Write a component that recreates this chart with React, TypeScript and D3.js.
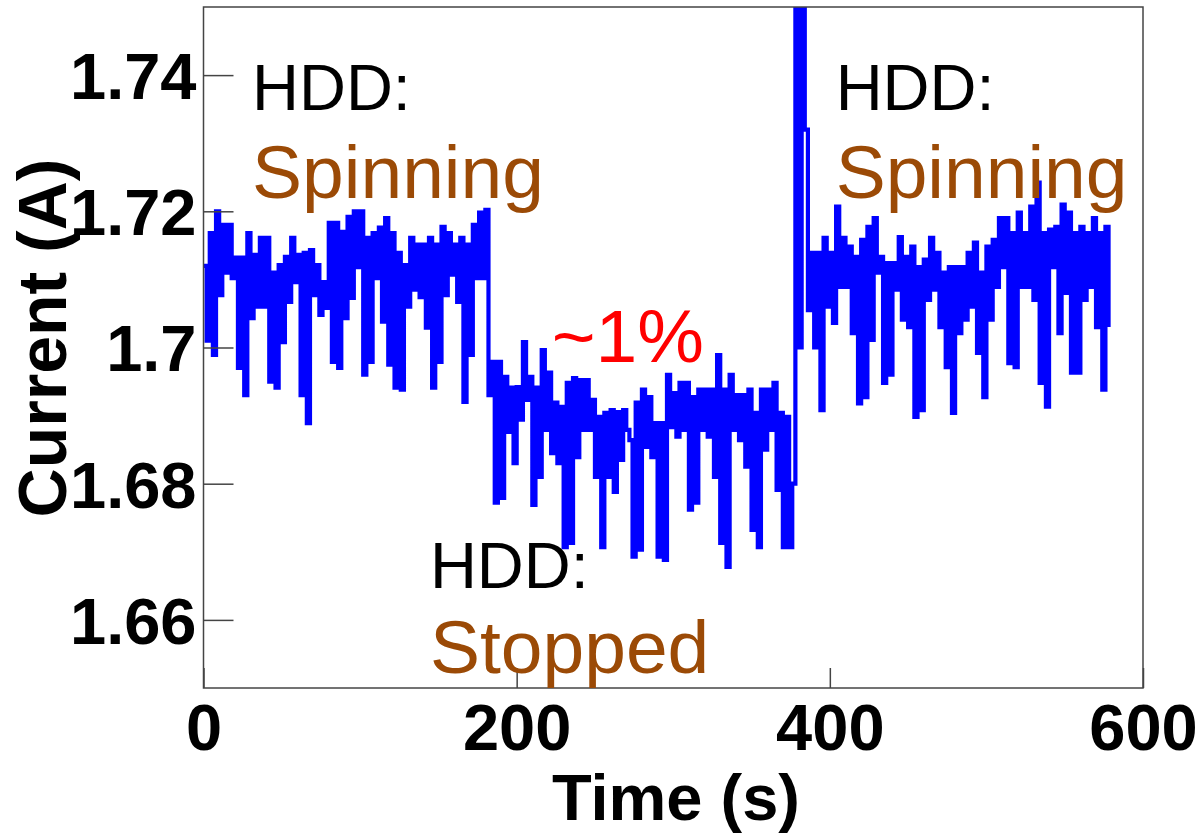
import { useEffect, useRef } from 'react'
import * as d3 from 'd3'

// ── Data ─────────────────────────────────────────────────────────────────────
// Seconds between two samples of the current trace
const SAMPLE_STEP = 2

// Supply current (A), one value every 2 s
const CURRENT = [
  // HDD spinning
  1.712, 1.701, 1.7168, 1.6989, 1.720, 1.7077, 1.718, 1.711, 1.718, 1.7102,
  1.7132, 1.697, 1.7132, 1.693, 1.7168, 1.7043, 1.7136, 1.706, 1.7161, 1.706,
  1.7161, 1.695, 1.711, 1.6941, 1.7121, 1.7008, 1.7133, 1.7067, 1.7161, 1.7096,
  1.7136, 1.693, 1.7139, 1.6889, 1.7143, 1.7077, 1.7121, 1.7048, 1.7096, 1.7058,
  1.7183, 1.6979, 1.7183, 1.697, 1.717, 1.7043, 1.7192, 1.7073, 1.720, 1.7118,
  1.720, 1.696, 1.7161, 1.6979, 1.7168, 1.7102, 1.7176, 1.7038, 1.719, 1.6975,
  1.7168, 1.6941, 1.7139, 1.6938, 1.7121, 1.706, 1.7161, 1.7085, 1.7151, 1.7074,
  1.7151, 1.7029, 1.7161, 1.6941, 1.7151, 1.6979, 1.7177, 1.7077, 1.7168, 1.7107,
  1.7151, 1.7067, 1.7161, 1.692, 1.7151, 1.6989, 1.718, 1.7102, 1.7198, 1.7102,
  1.7202, 1.693,
  // HDD stopped
  1.6979, 1.6772, 1.6979, 1.6779, 1.6957, 1.6876, 1.6941, 1.683, 1.6942, 1.6894,
  1.7008, 1.6923, 1.6957, 1.6769, 1.6941, 1.681, 1.6996, 1.6879, 1.6963, 1.6845,
  1.6919, 1.683, 1.6913, 1.6707, 1.6948, 1.6713, 1.6955, 1.6839, 1.6952, 1.6879,
  1.6952, 1.6879, 1.6923, 1.681, 1.6898, 1.6707, 1.6904, 1.681, 1.6908, 1.6788,
  1.6905, 1.6835, 1.6908, 1.6879, 1.6864, 1.6693, 1.6919, 1.6703, 1.6938, 1.6854,
  1.6927, 1.6839, 1.6889, 1.6693, 1.6889, 1.6688, 1.696, 1.6883, 1.6933, 1.6869,
  1.6948, 1.6879, 1.6948, 1.6762, 1.6927, 1.6772, 1.6938, 1.6879, 1.6938, 1.6869,
  1.6938, 1.681, 1.6989, 1.6713, 1.6938, 1.6678, 1.696, 1.6879, 1.693, 1.6864,
  1.693, 1.6825, 1.6938, 1.6732, 1.6904, 1.6707, 1.6938, 1.685, 1.6938, 1.6879,
  1.6948, 1.6791, 1.6904, 1.6707, 1.6898, 1.6707,
  // spin-up spike
  1.680, 1.780, 1.700, 1.780, 1.732, 1.7055,
  // HDD spinning again
  1.7139, 1.700, 1.7139, 1.6908, 1.7161, 1.706, 1.7139, 1.7036, 1.7207, 1.7089,
  1.7161, 1.7089, 1.7148, 1.7021, 1.7133, 1.6918, 1.7158, 1.6927, 1.7177, 1.7011,
  1.719, 1.711, 1.7133, 1.6948, 1.7124, 1.696, 1.7124, 1.7085, 1.7162, 1.7041,
  1.7133, 1.703, 1.7148, 1.6898, 1.7118, 1.6908, 1.7129, 1.707, 1.7161, 1.7085,
  1.7139, 1.703, 1.711, 1.6971, 1.7118, 1.6904, 1.7118, 1.7021, 1.7118, 1.7041,
  1.7139, 1.706, 1.7154, 1.6992, 1.711, 1.6927, 1.7148, 1.7041, 1.7158, 1.7089,
  1.719, 1.7118, 1.719, 1.6977, 1.7168, 1.6971, 1.7198, 1.7089, 1.7168, 1.7089,
  1.7207, 1.707, 1.7242, 1.6948, 1.7168, 1.6913, 1.7173, 1.7118, 1.7177, 1.7021,
  1.721, 1.708, 1.7198, 1.6963, 1.7168, 1.6963, 1.7177, 1.707, 1.7168, 1.7089,
  1.719, 1.703, 1.7168, 1.6938, 1.7177, 1.703,
]

const X_TICKS = [0, 200, 400, 600]
const Y_TICKS = [1.66, 1.68, 1.7, 1.72, 1.74]
const Y_TICK_LABELS = ['1.66', '1.68', '1.7', '1.72', '1.74']

const X_DOMAIN = [0, 600]
const Y_DOMAIN = [1.65, 1.75]

const STATE_HEAD = 'HDD:'
const STATE_NAMES = ['Spinning', 'Stopped', 'Spinning']
const DELTA_LABEL = '~1%'

// ── Layout ───────────────────────────────────────────────────────────────────
const W = 1203
const H = 834
const PLOT = { left: 203.5, top: 7, right: 1143, bottom: 688 }
const FONT = "'Liberation Sans', Arial, Helvetica, sans-serif"
const AXIS_COLOR = '#444'
const STATE_COLOR = '#9b4a06'

export default function App() {
  const svgRef = useRef<SVGSVGElement | null>(null)

  useEffect(() => {
    if (!svgRef.current) return
    const svg = d3.select(svgRef.current)
    svg.selectAll('*').remove()

    const x = d3.scaleLinear().domain(X_DOMAIN).range([PLOT.left, PLOT.right])
    const y = d3.scaleLinear().domain(Y_DOMAIN).range([PLOT.bottom, PLOT.top])

    const data = CURRENT.map((v, i) => ({ t: i * SAMPLE_STEP, v }))

    svg.append('rect').attr('width', W).attr('height', H).attr('fill', 'white')

    svg.append('clipPath').attr('id', 'plot-clip')
      .append('rect')
      .attr('x', PLOT.left).attr('y', PLOT.top)
      .attr('width', PLOT.right - PLOT.left).attr('height', PLOT.bottom - PLOT.top)

    // ── Trace ────────────────────────────────────────────────────────────────
    const line = d3.line<{ t: number; v: number }>()
      .x((d) => x(d.t))
      .y((d) => y(d.v))
      .curve(d3.curveStepAfter)

    svg.append('path')
      .datum(data)
      .attr('clip-path', 'url(#plot-clip)')
      .attr('fill', 'none')
      .attr('stroke', '#0000ff')
      .attr('stroke-width', 4.2)
      .attr('stroke-linejoin', 'miter')
      .attr('d', line)

    // ── Frame + inward ticks ─────────────────────────────────────────────────
    svg.append('rect')
      .attr('x', PLOT.left).attr('y', PLOT.top)
      .attr('width', PLOT.right - PLOT.left).attr('height', PLOT.bottom - PLOT.top)
      .attr('fill', 'none').attr('stroke', AXIS_COLOR).attr('stroke-width', 1.5)

    const yAxis = svg.append('g').attr('transform', `translate(${PLOT.left},0)`)
      .call(d3.axisLeft(y).tickValues(Y_TICKS).tickSize(-30).tickPadding(38)
        .tickFormat((_, i) => Y_TICK_LABELS[i]))
    yAxis.select('.domain').remove()

    const xAxis = svg.append('g').attr('transform', `translate(0,${PLOT.bottom})`)
      .call(d3.axisBottom(x).tickValues(X_TICKS).tickSize(-20).tickPadding(38)
        .tickFormat(d3.format('d')))
    xAxis.select('.domain').remove()

    svg.selectAll('.tick line').attr('stroke', AXIS_COLOR).attr('stroke-width', 1.5)
    svg.selectAll('.tick text')
      .attr('fill', 'black')
      .style('font-family', FONT)
      .style('font-size', '65px')
      .style('font-weight', 'bold')
    yAxis.selectAll('.tick text').attr('x', -7).attr('dy', '0.36em')
    xAxis.selectAll('.tick text').attr('y', 62).attr('dy', 0)

    // ── Axis titles ──────────────────────────────────────────────────────────
    svg.append('text')
      .attr('x', 676).attr('y', 820)
      .attr('text-anchor', 'middle')
      .style('font-family', FONT).style('font-size', '65px').style('font-weight', 'bold')
      .text('Time (s)')

    svg.append('text')
      .attr('transform', 'translate(66,338) rotate(-90)')
      .attr('text-anchor', 'middle')
      .style('font-family', FONT).style('font-size', '68px').style('font-weight', 'bold')
      .text('Current (A)')

    // ── Annotations ──────────────────────────────────────────────────────────
    const notes = [
      { t: 31, head: 1.7349, name: 1.722, label: STATE_NAMES[0] },
      { t: 144.6, head: 1.6647, name: 1.6522, label: STATE_NAMES[1] },
      { t: 403.7, head: 1.7349, name: 1.722, label: STATE_NAMES[2] },
    ]
    notes.forEach((n) => {
      svg.append('text')
        .attr('x', x(n.t)).attr('y', y(n.head))
        .style('font-family', FONT).style('font-size', '65px')
        .attr('fill', 'black')
        .text(STATE_HEAD)
      svg.append('text')
        .attr('x', x(n.t)).attr('y', y(n.name))
        .style('font-family', FONT).style('font-size', '75px')
        .attr('fill', STATE_COLOR)
        .text(n.label)
    })

    svg.append('text')
      .attr('x', x(222.4)).attr('y', y(1.6979))
      .style('font-family', FONT).style('font-size', '75px')
      .attr('fill', '#ff0000')
      .text(DELTA_LABEL)
  }, [])

  return (
    <div style={{ position: 'absolute', left: 0, top: 0 }}>
      <svg ref={svgRef} width={W} height={H} style={{ display: 'block' }} />
    </div>
  )
}
